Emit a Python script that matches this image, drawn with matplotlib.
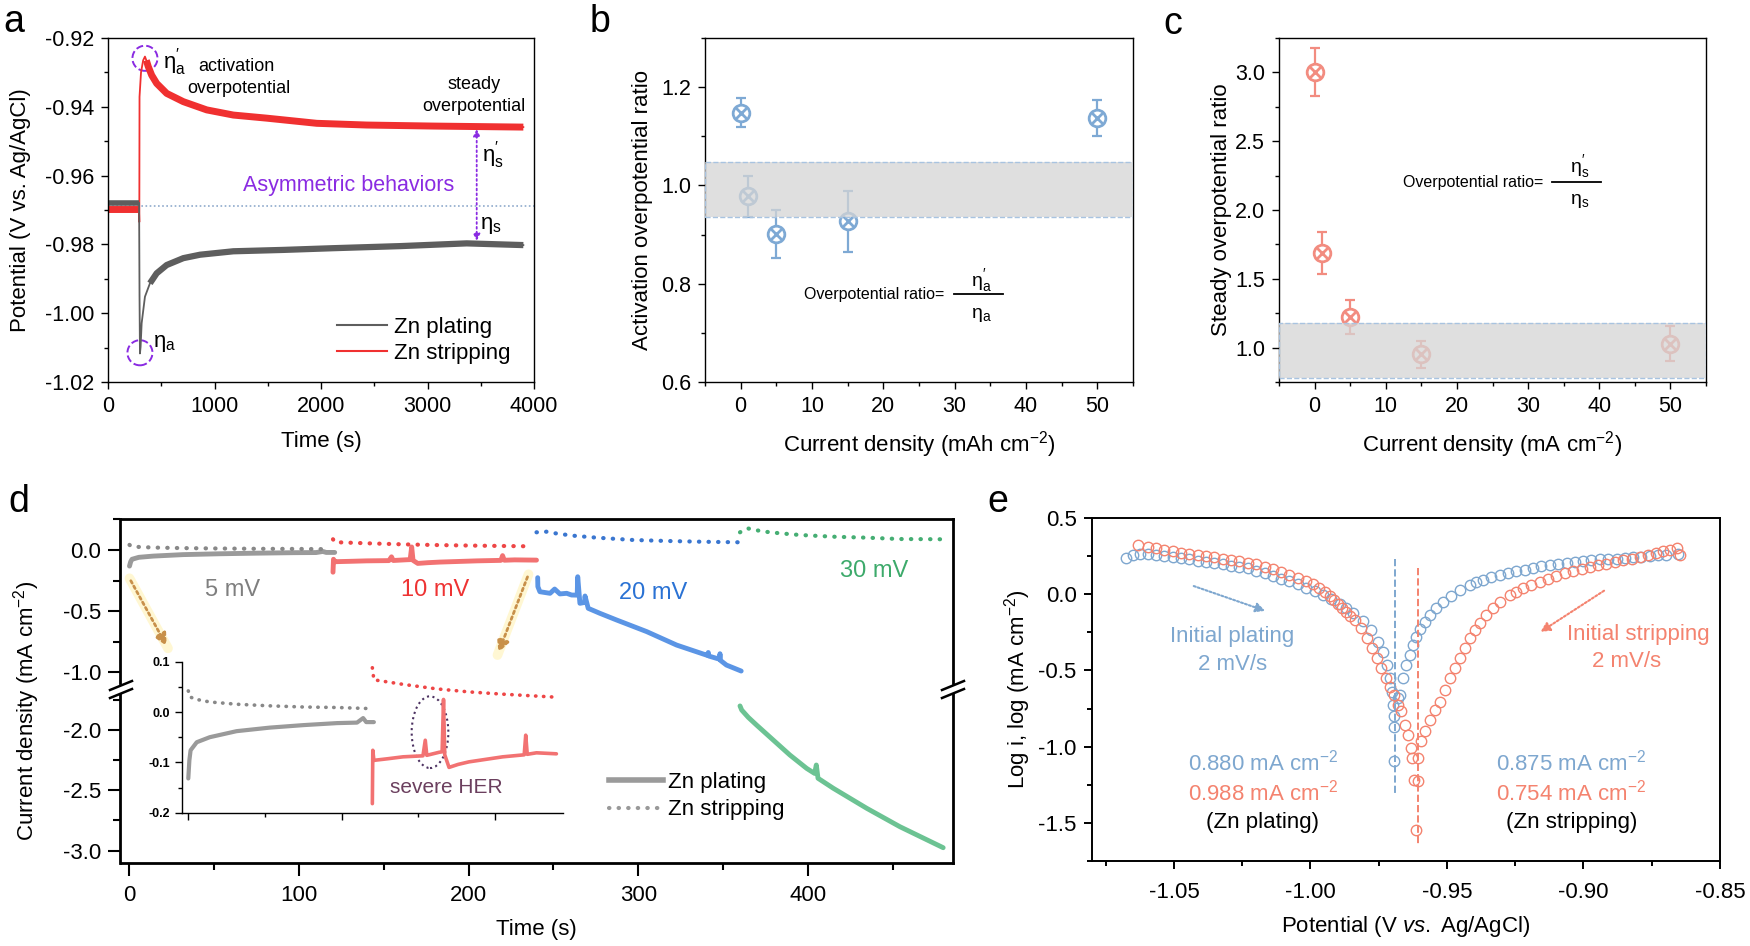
import numpy as np
import matplotlib
matplotlib.use("Agg")
import matplotlib.pyplot as plt
from matplotlib.ticker import MultipleLocator, FormatStrFormatter
from matplotlib.patches import Ellipse
from matplotlib.lines import Line2D

plt.rcParams['font.family'] = ['Liberation Sans', 'DejaVu Sans']
plt.rcParams['mathtext.fontset'] = 'custom'
plt.rcParams['mathtext.rm'] = 'Liberation Sans'
plt.rcParams['mathtext.it'] = 'Liberation Sans:italic'
plt.rcParams['mathtext.bf'] = 'Liberation Sans:bold'
plt.rcParams['axes.unicode_minus'] = False

# ---------------- data ----------------
# (a) galvanostatic curves
a_t_plate = [0, 150, 292, 296, 300, 306, 316, 347, 394, 457, 551, 707, 864, 1177, 1647, 2116, 2742, 3368, 3900]
a_v_plate = [-0.9679, -0.9679, -0.9679, -0.9950, -1.0117, -1.0098, -1.0029, -0.9952, -0.9913, -0.9884, -0.9860,
             -0.9840, -0.9830, -0.9820, -0.9816, -0.9811, -0.9805, -0.9797, -0.9802]
a_t_strip = [0, 150, 291, 294, 296, 310, 330, 347, 360, 378, 410, 457, 551, 707, 927, 1177, 1490, 1960, 2429,
             3055, 3900]
a_v_strip = [-0.9698, -0.9698, -0.9698, -0.9735, -0.9371, -0.9300, -0.9265, -0.9254, -0.9265, -0.9283,
             -0.9308, -0.9332, -0.9361, -0.9385, -0.9409, -0.9424, -0.9433, -0.9448, -0.9453, -0.9456, -0.9459]

# (b) activation overpotential ratio
b_x = [0, 1, 5, 15, 50]
b_y = [1.148, 0.978, 0.901, 0.927, 1.1375]
b_err = [0.030, 0.042, 0.048, 0.062, 0.036]
b_band = (0.936, 1.048)

# (c) steady overpotential ratio
c_x = [0, 1, 5, 15, 50]
c_y = [3.0, 1.688, 1.224, 0.952, 1.029]
c_err = [0.175, 0.155, 0.125, 0.097, 0.13]
c_band = (0.777, 1.18)

# (d) potentiostatic current, 5/10/20/30 mV
d5_t_plate = [0, 0.7, 1.5, 5.5, 14, 31.5, 53, 75, 97, 110, 114, 116, 121]
d5_v_plate = [-0.132, -0.096, -0.076, -0.060, -0.050, -0.038, -0.031, -0.026, -0.022, -0.021, -0.012, -0.020, -0.020]
d5_t_strip = [0, 1, 5.5, 14, 31.5, 53, 75, 97, 117]
d5_v_strip = [0.042, 0.030, 0.025, 0.020, 0.0155, 0.0123, 0.010, 0.009, 0.007]

d10_t_plate = [120, 120.3, 121, 129.5, 140, 153, 154.5, 155.5, 163.5, 165.5, 166.4, 167.2, 170, 176, 183,
               205, 219, 220, 221, 227, 240]
d10_v_plate = [-0.182, -0.076, -0.096, -0.093, -0.089, -0.087, -0.056, -0.086, -0.080, -0.079, 0.025, -0.085,
               -0.110, -0.104, -0.099, -0.089, -0.085, -0.046, -0.084, -0.081, -0.083]
d10_t_strip = [120, 121, 129.5, 140, 162, 183, 205, 237]
d10_v_strip = [0.088, 0.064, 0.060, 0.055, 0.046, 0.040, 0.0355, 0.030]

d20_t_plate = [240.7, 240.8, 242, 248, 250.7, 253.8, 257.8, 260.7, 264, 264.3, 265.6, 268.3, 268.6, 270.5,
               277.4, 287.3, 305, 322.6, 341, 341.3, 341.6, 347.9, 348.2, 348.5, 352, 360.7]
d20_v_plate = [-0.227, -0.30, -0.342, -0.355, -0.32, -0.36, -0.355, -0.369, -0.37, -0.219, -0.437, -0.43,
               -0.377, -0.478, -0.519, -0.574, -0.669, -0.779, -0.865, -0.84, -0.869, -0.895, -0.85, -0.905,
               -0.943, -0.992]
d20_t_strip = [240, 246, 251, 261, 275.5, 297, 316.7, 336.4, 360]
d20_v_strip = [0.145, 0.150, 0.137, 0.118, 0.101, 0.082, 0.074, 0.068, 0.063]

d30_t_plate = [360, 361, 364.9, 369.8, 379.6, 389.4, 399.3, 404, 405, 406, 415, 434.7, 454.3, 479.8]
d30_v_plate = [-1.80, -1.834, -1.895, -1.959, -2.083, -2.207, -2.318, -2.36, -2.29, -2.40, -2.483, -2.649,
               -2.802, -2.976]
d30_t_strip = [360, 364.3, 368.8, 374.7, 383.5, 395.3, 415, 434.7, 454, 479]
d30_v_strip = [0.145, 0.178, 0.164, 0.150, 0.137, 0.123, 0.109, 0.101, 0.090, 0.088]

# (e) Tafel sweeps (potential V, log i)
e_v_plate = [-1.0675, -1.0651, -1.0626, -1.0596, -1.0565, -1.0535, -1.0504, -1.0474, -1.0443, -1.0413,
             -1.0382, -1.0352, -1.0321, -1.0290, -1.0260, -1.0229, -1.0199, -1.0168, -1.0138, -1.0107,
             -1.0077, -1.0046, -1.0016, -0.9985, -0.9954, -0.9924, -0.9893, -0.9869, -0.9844, -0.9808,
             -0.9777, -0.9753, -0.9734, -0.9719, -0.9708, -0.9700, -0.9698, -0.9695, -0.9695, -0.9695,
             -0.9680, -0.9673, -0.9661, -0.9649, -0.9637, -0.9625, -0.9612, -0.9600, -0.9582, -0.9563,
             -0.9539, -0.9515, -0.9484, -0.9453, -0.9417, -0.9392, -0.9368, -0.9337, -0.9307, -0.9276,
             -0.9246, -0.9215, -0.9185, -0.9154, -0.9124, -0.9093, -0.9062, -0.9032, -0.9001, -0.8971,
             -0.8940, -0.8910, -0.8879, -0.8849, -0.8818, -0.8788, -0.8757, -0.8726, -0.8696, -0.8653]
e_i_plate = [0.238, 0.256, 0.267, 0.265, 0.260, 0.254, 0.245, 0.236, 0.228, 0.221,
             0.212, 0.206, 0.197, 0.188, 0.180, 0.169, 0.153, 0.138, 0.121, 0.103,
             0.086, 0.064, 0.042, 0.018, -0.006, -0.034, -0.067, -0.093, -0.126, -0.176,
             -0.235, -0.311, -0.377, -0.464, -0.551, -0.639, -0.726, -0.802, -0.868, -1.097,
             -0.682, -0.660, -0.551, -0.464, -0.399, -0.333, -0.279, -0.228, -0.180, -0.137,
             -0.093, -0.054, -0.010, 0.025, 0.060, 0.077, 0.092, 0.110, 0.125, 0.138,
             0.151, 0.162, 0.173, 0.182, 0.190, 0.199, 0.208, 0.214, 0.221, 0.225,
             0.230, 0.232, 0.234, 0.238, 0.241, 0.245, 0.249, 0.256, 0.260, 0.267]
e_v_strip = [-1.0633, -1.0596, -1.0565, -1.0535, -1.0504, -1.0474, -1.0443, -1.0413, -1.0382, -1.0352,
             -1.0321, -1.0290, -1.0260, -1.0229, -1.0199, -1.0168, -1.0138, -1.0107, -1.0077, -1.0046,
             -1.0016, -0.9991, -0.9967, -0.9948, -0.9930, -0.9915, -0.9899, -0.9885, -0.9869, -0.9854,
             -0.9838, -0.9814, -0.9793, -0.9774, -0.9756, -0.9741, -0.9725, -0.9710, -0.9695, -0.9680,
             -0.9667, -0.9655, -0.9643, -0.9631, -0.9627, -0.9622, -0.9615, -0.9606, -0.9606, -0.9594,
             -0.9582, -0.9563, -0.9545, -0.9527, -0.9508, -0.9490, -0.9472, -0.9453, -0.9435, -0.9417,
             -0.9398, -0.9380, -0.9356, -0.9331, -0.9307, -0.9270, -0.9246, -0.9221, -0.9191, -0.9160,
             -0.9130, -0.9099, -0.9069, -0.9038, -0.9007, -0.8977, -0.8946, -0.8916, -0.8885, -0.8855,
             -0.8824, -0.8794, -0.8763, -0.8733, -0.8708, -0.8684, -0.8659, -0.8647]
e_i_strip = [0.321, 0.310, 0.300, 0.291, 0.282, 0.273, 0.265, 0.256, 0.249, 0.243,
             0.234, 0.225, 0.217, 0.206, 0.195, 0.180, 0.164, 0.147, 0.129, 0.108,
             0.086, 0.064, 0.038, 0.016, -0.010, -0.039, -0.067, -0.093, -0.119, -0.143,
             -0.170, -0.224, -0.289, -0.355, -0.420, -0.486, -0.551, -0.606, -0.660, -0.726,
             -0.769, -0.857, -0.922, -1.009, -1.075, -1.217, -1.544, -1.228, -1.075, -0.966,
             -0.900, -0.824, -0.759, -0.704, -0.628, -0.551, -0.486, -0.420, -0.355, -0.289,
             -0.235, -0.191, -0.137, -0.089, -0.050, -0.006, 0.016, 0.038, 0.060, 0.081,
             0.101, 0.118, 0.136, 0.151, 0.166, 0.180, 0.190, 0.201, 0.212, 0.223,
             0.234, 0.245, 0.260, 0.273, 0.284, 0.293, 0.304, 0.260]
e_ecorr_plate = -0.9692
e_ecorr_strip = -0.9606

# ---------------- figure ----------------
W, H = 1750, 946
fig = plt.figure(figsize=(W / 100, H / 100), dpi=100)


def axes_px(l, t, r, b):
    return fig.add_axes([l / W, 1 - b / H, (r - l) / W, (b - t) / H])


def style(ax, lw=1.0, size=15.5, major=5, minor=3, pad=5):
    for s in ax.spines.values():
        s.set_linewidth(lw)
    ax.tick_params(which='both', direction='out', width=lw, labelsize=size, top=False, right=False, pad=pad)
    ax.tick_params(which='major', length=major)
    ax.tick_params(which='minor', length=minor)


LBL = 16
purple = '#8A2BE2'

# ---- a ----
ax = axes_px(108, 38, 534, 382)
tp, vp = np.array(a_t_plate), np.array(a_v_plate)
ts, vs = np.array(a_t_strip), np.array(a_v_strip)
ax.plot(ts, vs, color='#F03030', lw=1.3)
ax.plot(ts[ts < 292], vs[ts < 292], color='#F03030', lw=5, solid_capstyle='butt')
ax.plot(ts[ts >= 360], vs[ts >= 360], color='#F03030', lw=5, solid_capstyle='butt')
ax.plot(tp, vp, color='#5E5E5E', lw=1.3)
ax.plot(tp[tp < 293], vp[tp < 293], color='#5E5E5E', lw=4, solid_capstyle='butt')
ax.plot(tp[tp >= 394], vp[tp >= 394], color='#5E5E5E', lw=4.5, solid_capstyle='butt')
ax.axhline(-0.96875, color='#8FAACC', lw=1.2, ls=(0, (1, 1.5)), zorder=0)
ax.annotate('', xy=(3462, -0.9798), xytext=(3462, -0.9457),
            arrowprops=dict(arrowstyle='<|-|>', color=purple, lw=1.3, ls=':', mutation_scale=10))
ax.add_patch(Ellipse((347, -0.9259), 235, 0.0073, fill=False, ec=purple, ls='--', lw=1.4))
ax.add_patch(Ellipse((300, -1.0115), 235, 0.0073, fill=False, ec=purple, ls='--', lw=1.4))
ax.text(629, -0.9269, r"η$^{\prime}_{\mathrm{a}}$", fontsize=16, ha='center', va='center')
ax.text(535, -1.0089, r"η$_{\mathrm{a}}$", fontsize=16, ha='center', va='center')
ax.text(1202, -0.9283, "activation", fontsize=13, ha='center', va='center')
ax.text(1233, -0.9346, "overpotential", fontsize=13, ha='center', va='center')
ax.text(3440, -0.9334, "steady", fontsize=13, ha='center', va='center')
ax.text(3440, -0.9398, "overpotential", fontsize=13, ha='center', va='center')
ax.text(2257, -0.9629, "Asymmetric behaviors", fontsize=15.5, color=purple, ha='center', va='center')
ax.text(3612, -0.9540, r"η$^{\prime}_{\mathrm{s}}$", fontsize=16, ha='center', va='center')
ax.text(3600, -0.9744, r"η$_{\mathrm{s}}$", fontsize=16, ha='center', va='center')
ax.set_xlim(0, 4000)
ax.set_ylim(-1.02, -0.92)
ax.xaxis.set_major_locator(MultipleLocator(1000))
ax.xaxis.set_minor_locator(MultipleLocator(500))
ax.yaxis.set_major_locator(MultipleLocator(0.02))
ax.yaxis.set_minor_locator(MultipleLocator(0.01))
ax.yaxis.set_major_formatter(FormatStrFormatter('%.2f'))
style(ax)
ax.set_xlabel("Time (s)", fontsize=LBL, labelpad=10)
ax.set_ylabel("Potential (V vs. Ag/AgCl)", fontsize=LBL, labelpad=10)
hs = [Line2D([], [], color='#5E5E5E', lw=1.5), Line2D([], [], color='#F03030', lw=1.5)]
ax.legend(hs, ["Zn plating", "Zn stripping"], loc='upper left', bbox_to_anchor=(0.538, 0.19),
          frameon=False, fontsize=16, handlelength=2.25, handletextpad=0.3, borderpad=0,
          labelspacing=0.25, borderaxespad=0)


# ---- b / c ----
def ratio_panel(ax, x, y, err, band, color, xlabel, ylabel, ypad):
    ax.errorbar(x, y, yerr=err, fmt='none', ecolor=color, elinewidth=1.6, capsize=3.5, capthick=1.6, zorder=2)
    ax.plot(x, y, 'o', ms=12, mfc='white', mec=color, mew=2, zorder=2)
    ax.plot(x, y, 'x', ms=8, mec=color, mew=2, zorder=2)
    ax.axhspan(band[0], band[1], facecolor='#D5D5D5', alpha=0.75, zorder=3, lw=0)
    ax.axhspan(band[0], band[1], facecolor='none', edgecolor='#A8C3E0', ls='--', lw=1, zorder=3)
    ax.set_xlim(-5, 55)
    ax.xaxis.set_major_locator(MultipleLocator(10))
    ax.xaxis.set_minor_locator(MultipleLocator(5))
    ax.yaxis.set_major_formatter(FormatStrFormatter('%.1f'))
    style(ax)
    ax.set_xlabel(xlabel, fontsize=LBL, labelpad=9)
    ax.set_ylabel(ylabel, fontsize=LBL, labelpad=ypad)


ax = axes_px(705, 38, 1133, 382)
ratio_panel(ax, b_x, b_y, b_err, b_band, '#7EA9D4', "Current density (mAh cm$^{-2}$)",
            "Activation overpotential ratio", 5.5)
ax.set_ylim(0.6, 1.3)
ax.yaxis.set_major_locator(MultipleLocator(0.2))
ax.yaxis.set_minor_locator(MultipleLocator(0.1))
ax.text(0.558, 0.253, "Overpotential ratio=", transform=ax.transAxes, ha='right', va='center', fontsize=11.5)
ax.plot([0.581, 0.696], [0.256, 0.256], transform=ax.transAxes, color='k', lw=1.3)
ax.text(0.645, 0.296, r"η$^{\prime}_{\mathrm{a}}$", transform=ax.transAxes, ha='center', va='center', fontsize=14)
ax.text(0.645, 0.196, r"η$_{\mathrm{a}}$", transform=ax.transAxes, ha='center', va='center', fontsize=14)

ax = axes_px(1279, 38, 1706, 382)
ratio_panel(ax, c_x, c_y, c_err, c_band, '#F28C80', "Current density (mA cm$^{-2}$)",
            "Steady overpotential ratio", 2.5)
ax.set_ylim(0.75, 3.25)
ax.yaxis.set_major_locator(MultipleLocator(0.5))
ax.yaxis.set_minor_locator(MultipleLocator(0.25))
ax.text(0.618, 0.579, "Overpotential ratio=", transform=ax.transAxes, ha='right', va='center', fontsize=11.5)
ax.plot([0.639, 0.754], [0.58, 0.58], transform=ax.transAxes, color='k', lw=1.3)
ax.text(0.703, 0.626, r"η$^{\prime}_{\mathrm{s}}$", transform=ax.transAxes, ha='center', va='center', fontsize=14)
ax.text(0.703, 0.526, r"η$_{\mathrm{s}}$", transform=ax.transAxes, ha='center', va='center', fontsize=14)

# ---- d ----
cols = {5: ('#9A9A9A', '#888888'), 10: ('#F27272', '#EE4646'), 20: ('#5B95E5', '#3A76D0'),
        30: ('#6CC393', '#45AE73')}
dot = dict(ls=(0, (0.1, 2.2)), lw=3, dash_capstyle='round')
axu = axes_px(120.5, 519, 953, 683)
axl = axes_px(120.5, 694, 953, 863)
for a_ in (axu, axl):
    a_.set_xlim(-5.3, 485.6)
    a_.xaxis.set_major_locator(MultipleLocator(100))
    a_.xaxis.set_minor_locator(MultipleLocator(50))
    a_.yaxis.set_major_locator(MultipleLocator(0.5))
    a_.yaxis.set_minor_locator(MultipleLocator(0.25))
    a_.yaxis.set_major_formatter(FormatStrFormatter('%.1f'))
    style(a_, lw=2, size=16, major=9, minor=5, pad=5)
    a_.tick_params(axis='x', pad=7)
    a_.tick_params(which='both', width=1.5)
axu.set_ylim(-1.09, 0.254)
axl.set_ylim(-3.103, -1.701)
axu.spines['bottom'].set_visible(False)
axl.spines['top'].set_visible(False)
axu.tick_params(which='both', bottom=False, labelbottom=False)

for tpl, vpl, tst, vst, k in [(d5_t_plate, d5_v_plate, d5_t_strip, d5_v_strip, 5),
                              (d10_t_plate, d10_v_plate, d10_t_strip, d10_v_strip, 10),
                              (d20_t_plate, d20_v_plate, d20_t_strip, d20_v_strip, 20)]:
    axu.plot(tpl, vpl, color=cols[k][0], lw=3.5, solid_capstyle='round')
    axu.plot(tst, vst, color=cols[k][1], **dot)
axu.plot(d30_t_strip, d30_v_strip, color=cols[30][1], **dot)
axl.plot(d30_t_plate, d30_v_plate, color=cols[30][0], lw=3.5, solid_capstyle='round')

axu.text(60.7, -0.33, "5 mV", color='#7F7F7F', fontsize=17, ha='center', va='center')
axu.text(180, -0.33, "10 mV", color='#EE3333', fontsize=17, ha='center', va='center')
axu.text(309, -0.35, "20 mV", color='#2A72D4', fontsize=17, ha='center', va='center')
axu.text(439, -0.17, "30 mV", color='#3DAA6B', fontsize=17, ha='center', va='center')

for (x0, y0, x1, y1) in [(0, -0.232, 22.7, -0.806), (235.3, -0.199, 217, -0.861)]:
    axu.plot([x0, x1], [y0, y1], color='#FFF6C8', lw=7, alpha=0.8, solid_capstyle='round', zorder=1)
    axu.annotate('', xy=(x1, y1), xytext=(x0, y0), annotation_clip=False,
                 arrowprops=dict(arrowstyle='-|>', color='#C8904A', lw=2, ls=(0, (1, 1.2)), mutation_scale=18))

axl.set_xlabel("Time (s)", fontsize=LBL, labelpad=9)
fig.text(27 / W, 1 - 711 / H, "Current density (mA cm$^{-2}$)", rotation=90, fontsize=LBL,
         ha='center', va='center')
hs = [Line2D([], [], color='#9A9A9A', lw=4), Line2D([], [], color='#999999', **dot)]
axl.legend(hs, ["Zn plating", "Zn stripping"], loc='upper left', bbox_to_anchor=(0.587, 0.54),
           frameon=False, fontsize=16, handlelength=2.4, handletextpad=0.25, borderpad=0,
           labelspacing=0.3, borderaxespad=0)

# break marks
for (x0, x1) in [(110, 132), (942, 964)]:
    for dy in (0, 8):
        fig.add_artist(Line2D([x0 / W, x1 / W], [1 - (690 + dy) / H, 1 - (681 + dy) / H],
                              transform=fig.transFigure, color='k', lw=1.8))

# inset
axi = axes_px(181.7, 661.7, 563.3, 812.7)
axi.set_facecolor('none')
idot = dict(ls=(0, (0.1, 2.1)), lw=2.6, dash_capstyle='round')
axi.plot(d5_t_plate, d5_v_plate, color=cols[5][0], lw=3, solid_capstyle='round')
axi.plot(d5_t_strip, d5_v_strip, color=cols[5][1], **idot)
axi.plot(d10_t_plate, d10_v_plate, color=cols[10][0], lw=2.6, solid_capstyle='round')
axi.plot(d10_t_strip, d10_v_strip, color=cols[10][1], **idot)
axi.add_patch(Ellipse((157.6, -0.040), 23.9, 0.1425, fill=False, ec='#4B3060', ls=':', lw=1.5))
axi.text(168.4, -0.149, "severe HER", color='#6B3F5E', fontsize=15, ha='center', va='center')
axi.set_xlim(-4.3, 244.5)
axi.set_ylim(-0.2, 0.1)
axi.xaxis.set_major_locator(MultipleLocator(100))
axi.xaxis.set_minor_locator(MultipleLocator(50))
axi.yaxis.set_major_locator(MultipleLocator(0.1))
axi.yaxis.set_minor_locator(MultipleLocator(0.05))
axi.yaxis.set_major_formatter(FormatStrFormatter('%.1f'))
axi.spines['top'].set_visible(False)
axi.spines['right'].set_visible(False)
for s in ('left', 'bottom'):
    axi.spines[s].set_linewidth(1.0)
axi.tick_params(which='both', direction='out', width=1.0, labelbottom=False, labelsize=9)
axi.tick_params(which='major', length=5)
axi.tick_params(which='minor', length=3)
for lab in axi.get_yticklabels():
    lab.set_fontweight('bold')

# ---- e ----
ax = axes_px(1092, 518, 1720, 861)
blue_e, red_e = '#7EA7CF', '#F4836F'
ax.plot(e_v_plate, e_i_plate, 'o', ms=7.5, mfc='none', mec=blue_e, mew=1.0)
ax.plot(e_v_strip, e_i_strip, 'o', ms=7.5, mfc='none', mec=red_e, mew=1.0)
ax.plot([e_ecorr_plate, e_ecorr_plate], [0.234, -1.326], color=blue_e, ls='--', lw=1.4)
ax.plot([e_ecorr_strip, e_ecorr_strip], [0.169, -1.653], color=red_e, ls='--', lw=1.4)
ax.annotate('', xy=(-1.0156, -0.115), xytext=(-1.0437, 0.0596),
            arrowprops=dict(arrowstyle='-|>', color=blue_e, lw=1.5, ls=(0, (1, 1)), mutation_scale=14))
ax.annotate('', xy=(-0.9166, -0.257), xytext=(-0.8916, 0.033),
            arrowprops=dict(arrowstyle='-|>', color=red_e, lw=1.5, ls=(0, (1, 1)), mutation_scale=14))
ax.text(-1.0285, -0.279, "Initial plating", color=blue_e, fontsize=16, ha='center', va='center')
ax.text(-1.0285, -0.46, "2 mV/s", color=blue_e, fontsize=16, ha='center', va='center')
ax.text(-0.880, -0.263, "Initial stripping", color=red_e, fontsize=16, ha='center', va='center')
ax.text(-0.8842, -0.442, "2 mV/s", color=red_e, fontsize=16, ha='center', va='center')
ax.text(-1.0174, -1.107, "0.880 mA cm$^{-2}$", color=blue_e, fontsize=16, ha='center', va='center')
ax.text(-1.0174, -1.304, "0.988 mA cm$^{-2}$", color=red_e, fontsize=16, ha='center', va='center')
ax.text(-1.0174, -1.50, "(Zn plating)", color='k', fontsize=16, ha='center', va='center')
ax.text(-0.9044, -1.107, "0.875 mA cm$^{-2}$", color=blue_e, fontsize=16, ha='center', va='center')
ax.text(-0.9044, -1.304, "0.754 mA cm$^{-2}$", color=red_e, fontsize=16, ha='center', va='center')
ax.text(-0.9044, -1.50, "(Zn stripping)", color='k', fontsize=16, ha='center', va='center')
ax.set_xlim(-1.08, -0.85)
ax.set_ylim(-1.75, 0.5)
ax.xaxis.set_major_locator(MultipleLocator(0.05))
ax.xaxis.set_minor_locator(MultipleLocator(0.025))
ax.yaxis.set_major_locator(MultipleLocator(0.5))
ax.yaxis.set_minor_locator(MultipleLocator(0.25))
ax.xaxis.set_major_formatter(FormatStrFormatter('%.2f'))
ax.yaxis.set_major_formatter(FormatStrFormatter('%.1f'))
style(ax, lw=1.4, size=16, major=6, minor=3.5, pad=5)
ax.tick_params(axis='x', pad=9)
ax.set_xlabel(r"Potential (V $\mathit{vs.}$ Ag/AgCl)", fontsize=LBL, labelpad=8)
ax.set_ylabel("Log i, log (mA cm$^{-2}$)", fontsize=LBL)

# panel letters
for lt, x, y in [('a', 3, 32), ('b', 590, 32), ('c', 1163, 34), ('d', 8, 512), ('e', 987, 512)]:
    fig.text(x / W, 1 - y / H, lt, fontsize=27, ha='left', va='baseline')

fig.savefig("out.png", dpi=100)
